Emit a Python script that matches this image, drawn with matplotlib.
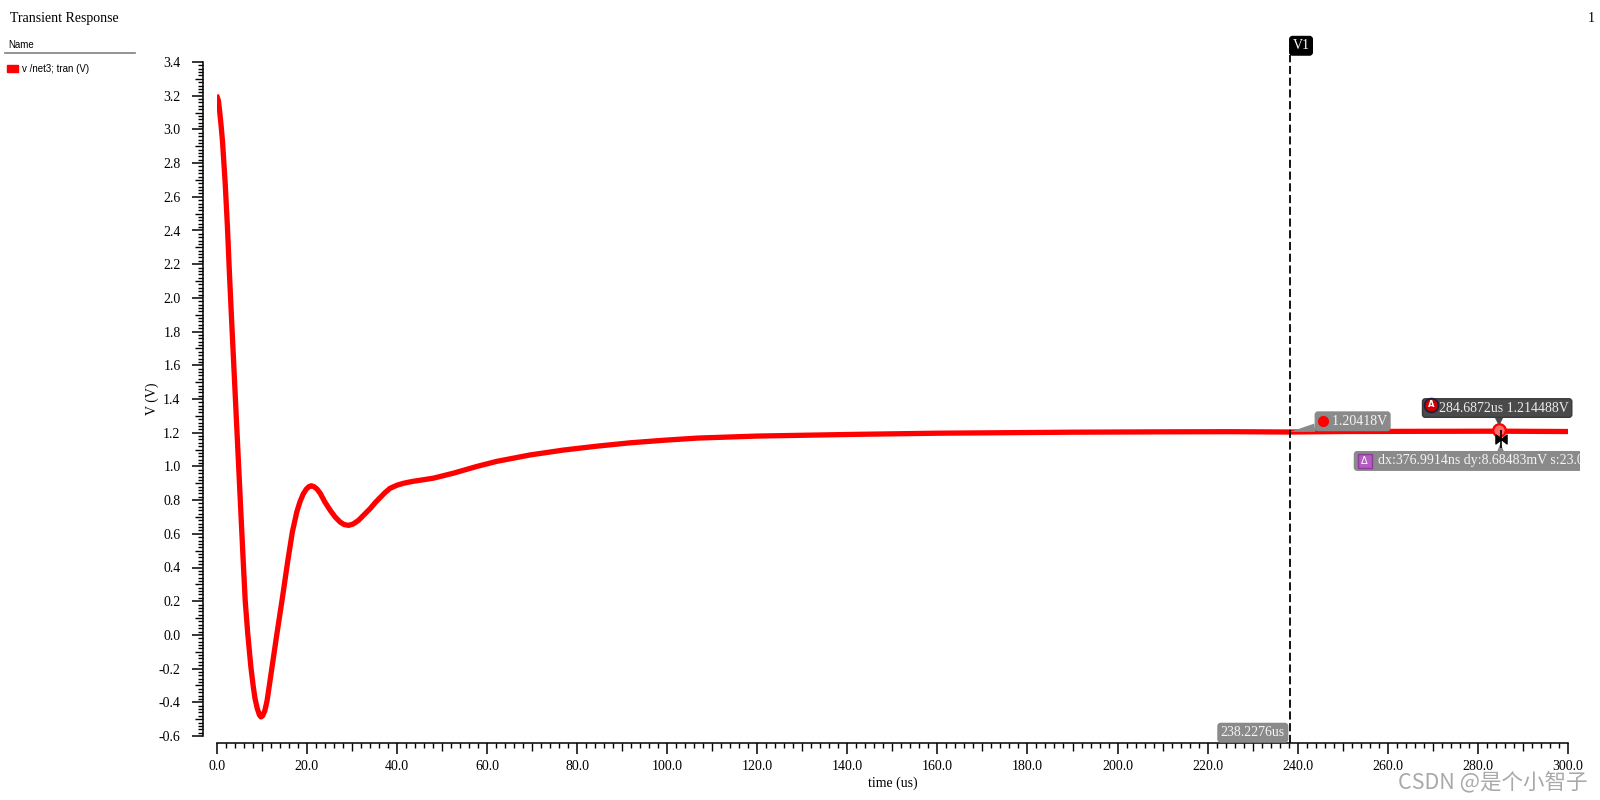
import matplotlib
matplotlib.use("Agg")
import matplotlib.pyplot as plt
from matplotlib.ticker import MultipleLocator, FormatStrFormatter
from matplotlib.lines import Line2D
from matplotlib.patches import Rectangle
from matplotlib.path import Path
from matplotlib.transforms import Bbox, TransformedBbox, offset_copy

# v /net3 transient (time in us, volts)
time_us = [0.15, 0.4, 0.7, 1.0, 1.3, 1.9, 2.4, 2.8, 3.25, 3.7,
           4.15, 4.6, 5.05, 5.5, 5.95, 6.35, 6.9, 7.6, 8.1, 8.5,
           9.0, 9.5, 9.85, 10.2, 10.7, 11.2, 11.7, 12.3, 13.4, 14.6,
           15.8, 16.8, 17.8, 18.5, 19.2, 19.9, 20.5, 21.0, 21.6, 22.3,
           23.0, 24.0, 25.2, 26.3, 27.4, 28.3, 29.3, 30.3, 31.5, 32.8,
           34.1, 35.2, 36.3, 37.4, 38.5, 40.0, 41.5, 43.3, 45.2, 48.1,
           52.6, 57.8, 62.2, 69.6, 77.0, 84.4, 91.8, 99.2, 106.7, 120.0,
           141.4, 160.0, 175.4, 190.0, 209.4, 225.0, 238.2, 250.0, 265.0, 284.7,
           299.6]
v_net3 = [3.19, 3.17, 3.10, 3.02, 2.93, 2.68, 2.42, 2.17, 1.91, 1.66,
          1.41, 1.16, 0.91, 0.66, 0.41, 0.20, 0.01, -0.19, -0.30, -0.375,
          -0.435, -0.475, -0.487, -0.48, -0.45, -0.39, -0.30, -0.19, 0.01, 0.22,
          0.44, 0.61, 0.73, 0.79, 0.835, 0.865, 0.88, 0.885, 0.88, 0.865,
          0.84, 0.79, 0.74, 0.70, 0.67, 0.655, 0.65, 0.658, 0.68, 0.715,
          0.75, 0.785, 0.815, 0.845, 0.87, 0.888, 0.90, 0.91, 0.918, 0.93,
          0.96, 1.00, 1.03, 1.068, 1.097, 1.12, 1.14, 1.155, 1.168, 1.18,
          1.19, 1.197, 1.20, 1.203, 1.205, 1.206, 1.204, 1.207, 1.208, 1.209,
          1.207]

cursor_t = 238.2276
cursor_v = 1.20418
marker_t = 284.6872
marker_v = 1.214488
delta_label = "dx:376.9914ns dy:8.68483mV s:23.0376"

plt.rcParams["font.family"] = ["Liberation Serif", "DejaVu Serif"]
plt.rcParams["axes.unicode_minus"] = False

fig = plt.figure(figsize=(16, 8), dpi=100)
ax = fig.add_axes([0.1354, 0.08, 0.8446, 0.8425])

ax.plot(time_us, v_net3, color="#ff0000", lw=3.8, solid_joinstyle="round")

ax.set_xlim(0, 300)
ax.set_ylim(-0.6, 3.4)
ax.xaxis.set_major_locator(MultipleLocator(20))
ax.xaxis.set_minor_locator(MultipleLocator(2))
ax.yaxis.set_major_locator(MultipleLocator(0.2))
ax.yaxis.set_minor_locator(MultipleLocator(0.02))
ax.xaxis.set_major_formatter(FormatStrFormatter("%.1f"))
ax.yaxis.set_major_formatter(FormatStrFormatter("%.1f"))

for s in ["top", "right"]:
    ax.spines[s].set_visible(False)
ax.spines["left"].set_position(("outward", 10))
ax.spines["bottom"].set_position(("outward", 5))
ax.spines["left"].set_linewidth(1.1)
ax.spines["bottom"].set_linewidth(1.1)

ax.tick_params(which="major", length=8, width=1.1, labelsize=10)
ax.tick_params(axis="y", which="major", pad=8)
ax.tick_params(axis="x", which="major", pad=4)
ax.tick_params(which="minor", length=3.5, width=1.0)

ax.set_xlabel("time (us)", fontsize=10, labelpad=3)
ax.set_ylabel("V (V)", fontsize=10, labelpad=0)

# mid-length ticks every 10us / 0.1V
xlocs = ax.xaxis.get_minorticklocs()
for loc, tk in zip(xlocs, ax.xaxis.get_minor_ticks(len(xlocs))):
    if abs(loc / 10 - round(loc / 10)) < 1e-6:
        tk.tick1line.set_markersize(6)
ylocs = ax.yaxis.get_minorticklocs()
for loc, tk in zip(ylocs, ax.yaxis.get_minor_ticks(len(ylocs))):
    if abs(loc / 0.1 - round(loc / 0.1)) < 1e-6:
        tk.tick1line.set_markersize(6)

# vertical cursor V1
ax.axvline(cursor_t, ymin=-0.0104, ymax=1.0104, color="black", lw=1.3,
           ls=(0, (4.5, 2)), clip_on=False)
ax.annotate("V1", xy=(cursor_t, 1), xycoords=("data", "axes fraction"),
            xytext=(2, 7), textcoords="offset points", ha="left", va="bottom",
            color="white", fontsize=10,
            bbox=dict(boxstyle="round,pad=0.2", fc="black", ec="black"))
ax.annotate("238.2276us", xy=(cursor_t, 0), xycoords=("data", "axes fraction"),
            xytext=(-3.5, -2.3), textcoords="offset points", ha="right", va="bottom",
            color="#f4f4f4", fontsize=10,
            bbox=dict(boxstyle="round,pad=0.2", fc="#8a8a8a", ec="#8a8a8a"))

# cursor value callout
gray = "#8a8a8a"
ax.annotate("    1.20418V", xy=(cursor_t, cursor_v), xytext=(20.4, 7.7),
            textcoords="offset points", ha="left", va="center",
            color="#f4f4f4", fontsize=10,
            bbox=dict(boxstyle="round,pad=0.2", fc=gray, ec=gray),
            arrowprops=dict(arrowstyle="wedge,tail_width=0.6", fc=gray, ec="none",
                            shrinkA=0, shrinkB=0))
ax.plot([cursor_t], [cursor_v], "o", color="red", ms=7, clip_on=False, zorder=6,
        transform=offset_copy(ax.transData, fig=fig, x=33, y=10.5, units="dots"))

# marker A
dark = "#4a4a4a"
ax.annotate("", xy=(marker_t, marker_v), xytext=(0, 10), textcoords="offset points",
            arrowprops=dict(arrowstyle="wedge,tail_width=0.7", fc=dark, ec="none",
                            shrinkA=0, shrinkB=3))
ax.annotate("    284.6872us 1.214488V", xy=(marker_t, marker_v), xytext=(-53.1, 16),
            textcoords="offset points", ha="left", va="center",
            color="#ececec", fontsize=10,
            bbox=dict(boxstyle="round,pad=0.2", fc=dark, ec="#3a3a3a"))
ax.plot([marker_t], [marker_v], "o", ms=9, mfc="#ff6a6a", mec="red", mew=1.6,
        clip_on=False, zorder=4)
a_badge = offset_copy(ax.transData, fig=fig, x=-67.8, y=25.3, units="dots")
ax.plot([marker_t], [marker_v], "o", ms=10, mfc="#d00000", mec="#1c1c3c", mew=1.2,
        transform=a_badge, clip_on=False, zorder=6)
ax.text(marker_t, marker_v, "A", transform=a_badge, ha="center", va="center",
        color="white", fontsize=6, fontweight="bold", family="DejaVu Sans", zorder=7)

# delta marker
bow = Path([(-1, -0.8), (0, 0), (-1, 0.8), (-1, -0.8), (1, -0.8), (0, 0), (1, 0.8), (1, -0.8)],
           [Path.MOVETO, Path.LINETO, Path.LINETO, Path.CLOSEPOLY,
            Path.MOVETO, Path.LINETO, Path.LINETO, Path.CLOSEPOLY])
bow_tr = offset_copy(ax.transData, fig=fig, x=1.5, y=-9, units="dots")
ax.plot([marker_t], [marker_v], marker=bow, ms=8, color="black", transform=bow_tr,
        clip_on=False, zorder=5)
ax.plot([marker_t], [marker_v], marker="|", ms=13, mew=1.2, color="black",
        transform=bow_tr, clip_on=False, zorder=5)
ax.annotate("", xy=(marker_t, marker_v), xycoords=bow_tr, xytext=(0, -10),
            textcoords="offset points",
            arrowprops=dict(arrowstyle="wedge,tail_width=0.6", fc=gray, ec="none",
                            shrinkA=0, shrinkB=3))
dtxt = ax.annotate("      " + delta_label, xy=(marker_t, marker_v), xytext=(-102.1, -22.1),
                   textcoords="offset points", ha="left", va="center",
                   color="#f4f4f4", fontsize=10,
                   bbox=dict(boxstyle="round,pad=0.2", fc=gray, ec=gray))
dtxt.set_clip_box(TransformedBbox(Bbox([[0, 0], [0.9875, 1]]), fig.transFigure))
dtxt.set_clip_on(True)
d_badge = offset_copy(ax.transData, fig=fig, x=-134.5, y=-30.5, units="dots")
ax.plot([marker_t], [marker_v], "s", ms=10, mfc="#b45cc0", mec="#8a3c98", mew=1,
        transform=d_badge, clip_on=False, zorder=6)
ax.text(marker_t, marker_v, "Δ", transform=d_badge, ha="center", va="center",
        color="white", fontsize=7, family="DejaVu Sans", zorder=7)

# header, legend and watermark
fig.text(0.00625, 0.977, "Transient Response", ha="left", va="center", fontsize=10)
fig.text(0.9965, 0.977, "1", ha="right", va="center", fontsize=10)
fig.text(0.005, 0.944, "Name", ha="left", va="center", fontsize=7, family="Liberation Sans")
fig.add_artist(Line2D([0.003, 0.0845], [0.934, 0.934], transform=fig.transFigure,
                      color="#808080", lw=1.2))
fig.add_artist(Rectangle((0.0045, 0.910), 0.007, 0.009, transform=fig.transFigure,
                         color="red"))
fig.text(0.0138, 0.914, "v /net3; tran (V)", ha="left", va="center", fontsize=7,
         family="Liberation Sans")
fig.text(0.992, 0.022, "CSDN @是个小智子", ha="right", va="center", fontsize=15.5,
         color="#a0a0a0", alpha=0.9, family=["Noto Sans CJK SC", "DejaVu Sans"])

fig.savefig("out.png", dpi=100)
